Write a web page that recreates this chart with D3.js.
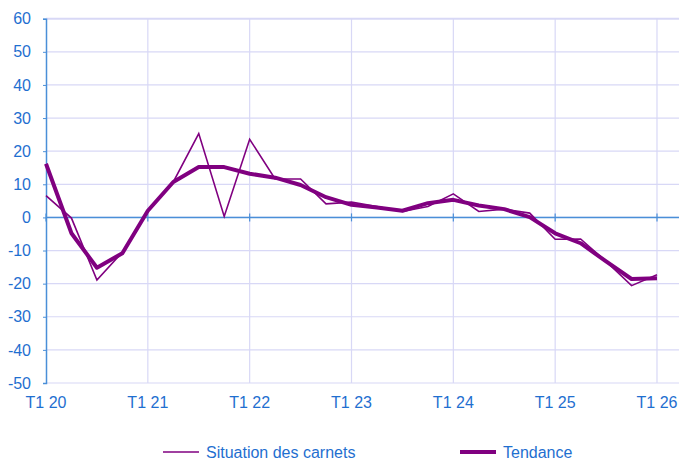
<!DOCTYPE html>
<html>
<head>
<meta charset="utf-8">
<script src="https://cdn.jsdelivr.net/npm/d3@7"></script>
<style>
  body { margin: 0; background: #fff; }
  svg { display: block; font-family: "Liberation Sans", Arial, sans-serif; }
</style>
</head>
<body>
<div id="chart"></div>
<script>
  // quarterly data, T1 2020 .. T1 2026
  const quarters = ["T1 20","T2 20","T3 20","T4 20","T1 21","T2 21","T3 21","T4 21","T1 22","T2 22","T3 22","T4 22","T1 23","T2 23","T3 23","T4 23","T1 24","T2 24","T3 24","T4 24","T1 25","T2 25","T3 25","T4 25","T1 26"]
  const carnets = [6.6, -0.2, -18.9, -10.5, 2.0, 10.7, 25.3, 0.3, 23.6, 11.6, 11.6, 4.1, 4.6, 3.3, 1.8, 3.3, 7.1, 1.8, 2.5, 1.3, -6.6, -6.5, -13.3, -20.6, -17.3]
  const tendance = [16.2, -4.8, -15.2, -10.8, 2.0, 10.7, 15.2, 15.2, 13.2, 12.0, 9.8, 6.1, 3.8, 3.0, 2.0, 4.3, 5.3, 3.6, 2.5, 0.1, -4.8, -7.8, -13.3, -18.6, -18.4]
  const yTicks = [-50, -40, -30, -20, -10, 0, 10, 20, 30, 40, 50, 60]
  const seriesNames = ["Situation des carnets", "Tendance"]

  const width = 679, height = 459
  const purple = "#800080"
  const textColor = "#1f6fd0"
  const axisColor = "#4a8fd8"
  const gridColor = "#d8d8f6"

  const svg = d3.select("#chart").append("svg")
    .attr("width", width)
    .attr("height", height)

  const x = d3.scaleLinear().domain([0, quarters.length - 1]).range([46, 657])
  const y = d3.scaleLinear().domain([-50, 60]).range([383, 18.7])

  const yearIdx = d3.range(0, quarters.length, 4)

  // grid
  svg.append("g")
    .selectAll("line")
    .data(yTicks)
    .join("line")
      .attr("x1", 46).attr("x2", width)
      .attr("y1", d => y(d)).attr("y2", d => y(d))
      .attr("stroke", gridColor)
      .attr("stroke-width", d => d === 60 ? 2 : 1.2)

  svg.append("g")
    .selectAll("line")
    .data(yearIdx.slice(1))
    .join("line")
      .attr("x1", d => x(d)).attr("x2", d => x(d))
      .attr("y1", y(60)).attr("y2", y(-50))
      .attr("stroke", gridColor)
      .attr("stroke-width", 1.2)

  // zero axis with ticks
  svg.append("line")
    .attr("x1", 46).attr("x2", width)
    .attr("y1", y(0)).attr("y2", y(0))
    .attr("stroke", axisColor).attr("stroke-width", 1.5)

  svg.append("g")
    .selectAll("line")
    .data(yearIdx)
    .join("line")
      .attr("x1", d => x(d)).attr("x2", d => x(d))
      .attr("y1", y(0) - 4).attr("y2", y(0) + 4)
      .attr("stroke", axisColor).attr("stroke-width", 1.2)

  // y axis
  const yAxis = svg.append("g")
    .attr("transform", "translate(46,0)")
    .call(d3.axisLeft(y).tickValues(yTicks).tickFormat(d => String(d)).tickSize(3).tickPadding(12))
  yAxis.select(".domain").attr("stroke", axisColor).attr("stroke-width", 1.5)
  yAxis.selectAll(".tick line").attr("stroke", axisColor)
  yAxis.selectAll("text")
    .attr("fill", textColor)
    .attr("font-size", 16)
    .attr("font-family", "Liberation Sans, Arial, sans-serif")

  // x labels
  svg.append("g")
    .selectAll("text")
    .data(yearIdx)
    .join("text")
      .attr("x", d => x(d))
      .attr("y", 408)
      .attr("text-anchor", "middle")
      .attr("fill", textColor)
      .attr("font-size", 16)
      .text(d => quarters[d])

  // lines
  const line = d3.line()
    .x((d, i) => x(i))
    .y(d => y(d))

  svg.append("path")
    .datum(carnets)
    .attr("fill", "none")
    .attr("stroke", purple)
    .attr("stroke-width", 1.6)
    .attr("stroke-linejoin", "miter")
    .attr("d", line)

  svg.append("path")
    .datum(tendance)
    .attr("fill", "none")
    .attr("stroke", purple)
    .attr("stroke-width", 4)
    .attr("stroke-linejoin", "round")
    .attr("d", line)

  // legend
  const legend = [
    { name: seriesNames[0], x: 163, w: 1.6 },
    { name: seriesNames[1], x: 460, w: 4 }
  ]
  const lg = svg.append("g")
    .selectAll("g")
    .data(legend)
    .join("g")
      .attr("transform", d => `translate(${d.x},452)`)
  lg.append("line")
    .attr("x1", 0).attr("x2", 36)
    .attr("stroke", purple)
    .attr("stroke-width", d => d.w)
  lg.append("text")
    .attr("x", 43)
    .attr("y", 5.5)
    .attr("fill", textColor)
    .attr("font-size", 16)
    .text(d => d.name)
</script>
</body>
</html>
